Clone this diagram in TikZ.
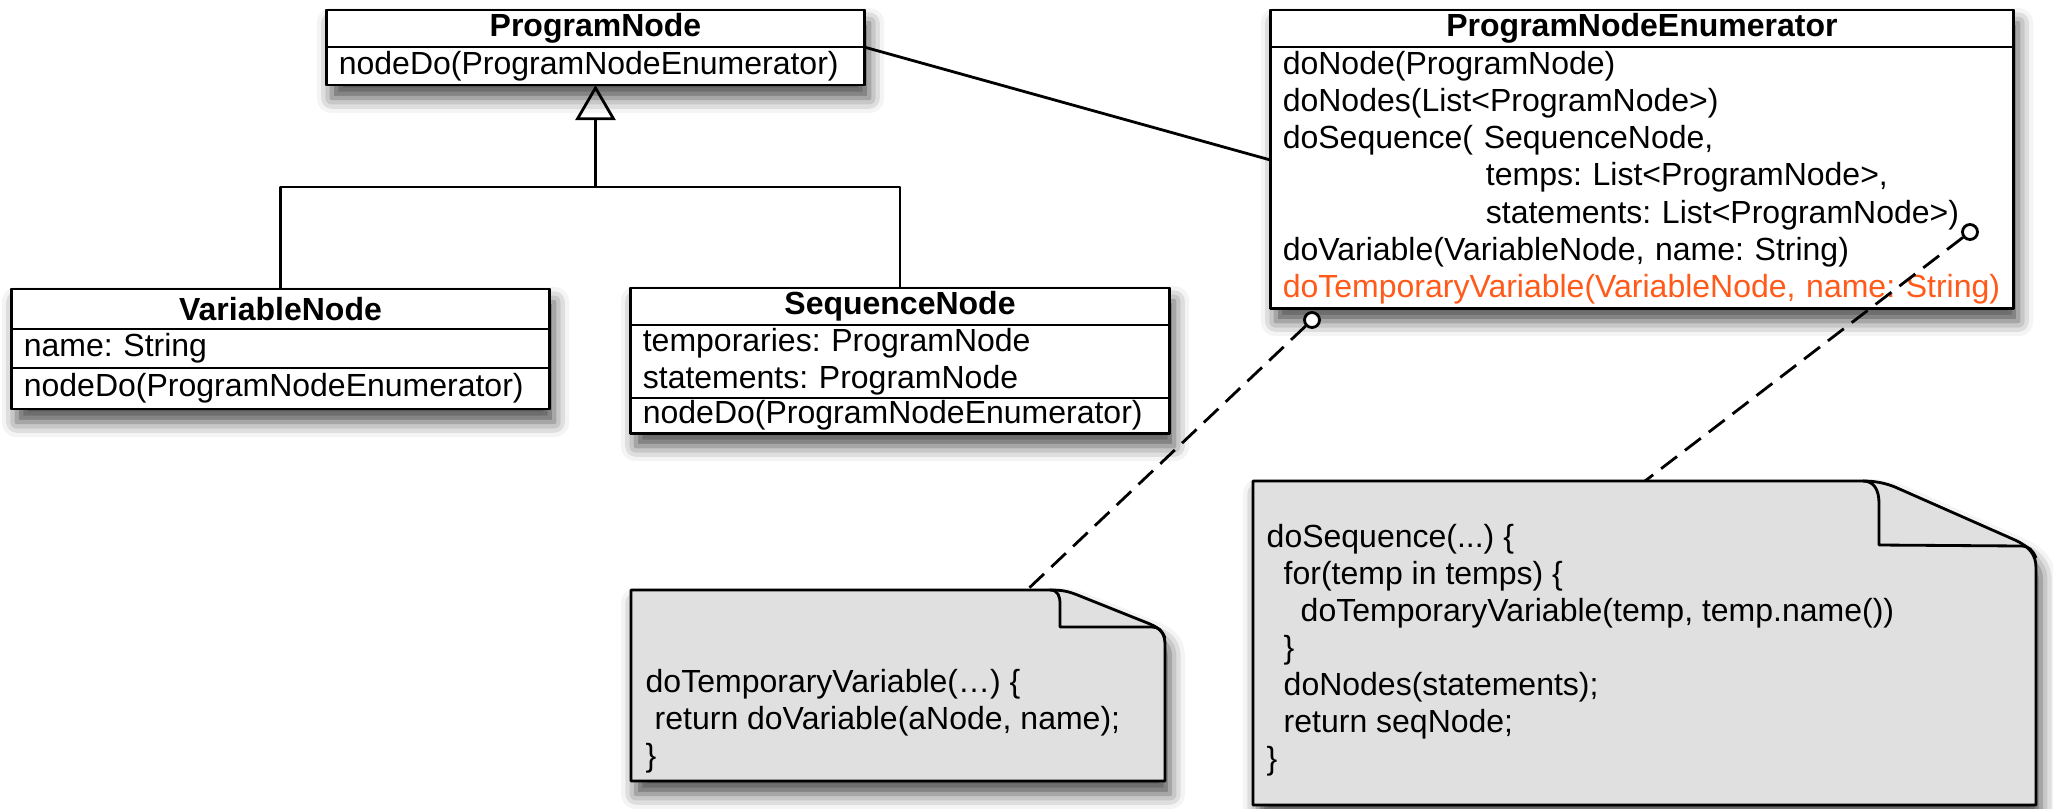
\documentclass[tikz,border=0pt]{standalone}
\usepackage{fontspec}
\setmainfont{Liberation Sans}
\usetikzlibrary{positioning,arrows.meta,shadows.blur}
\definecolor{notegray}{RGB}{224,224,224}
\definecolor{hilite}{RGB}{255,90,26}
\tikzset{
  boxshadow/.style={blur shadow={shadow xshift=0.05cm, shadow yshift=-0.13cm, shadow blur radius=0.15cm, shadow opacity=70}},
  classframe/.style={draw, line width=0.8pt, fill=white, outer sep=0pt, inner sep=0pt, boxshadow},
  classpart/.style={draw, line width=0.8pt, fill=white, outer sep=0pt, inner xsep=0.12cm, inner ysep=0pt,
    font=\fontsize{9.1}{10.6}\selectfont},
  classname/.style={classpart, font=\fontsize{9.1}{10.6}\selectfont\bfseries, align=center},
  classbody/.style={classpart, align=left},
  note/.style={draw, line width=0.8pt, fill=notegray, line join=round, boxshadow},
  notetext/.style={inner sep=0pt, align=left, anchor=west, font=\fontsize{9.1}{10.5}\selectfont},
  pin/.style={circle, draw, line width=0.8pt, fill=white, minimum size=0.15cm, inner sep=0pt},
  notelink/.style={line width=0.8pt, dash pattern=on 0.2cm off 0.1cm},
  inherit/.style={line width=0.8pt, -{Triangle[open, length=0.35cm, width=0.4cm, line width=0.8pt]}}
}
\frenchspacing
\begin{document}
\begin{tikzpicture}[x=0.01cm, y=-0.01cm, line join=round]
  \useasboundingbox (0,0) rectangle (2053,808);
  % classes
  \node[classframe, minimum width=5.37cm, minimum height=0.75cm, anchor=north] (pn) at (595.5,10) {};
  \node[classname, text width=5.13cm, minimum height=0.37cm, below=0pt of pn.north] (pnT) {ProgramNode};
  \node[classbody, text width=5.13cm, minimum height=0.38cm, below=0pt of pnT] (pnM) {nodeDo(ProgramNodeEnumerator)};

  \node[classframe, minimum width=5.37cm, minimum height=1.20cm, anchor=north] (vn) at (280.5,289) {};
  \node[classname, text width=5.13cm, minimum height=0.40cm, below=0pt of vn.north] (vnT) {VariableNode};
  \node[classbody, text width=5.13cm, minimum height=0.39cm, below=0pt of vnT] (vnA) {name: String};
  \node[classbody, text width=5.13cm, minimum height=0.41cm, below=0pt of vnA] (vnM) {nodeDo(ProgramNodeEnumerator)};

  \node[classframe, minimum width=5.38cm, minimum height=1.45cm, anchor=north] (sn) at (900,288) {};
  \node[classname, text width=5.14cm, minimum height=0.37cm, below=0pt of sn.north] (snT) {SequenceNode};
  \node[classbody, text width=5.14cm, minimum height=0.73cm, below=0pt of snT] (snA) {temporaries: ProgramNode\\statements: ProgramNode};
  \node[classbody, text width=5.14cm, minimum height=0.35cm, below=0pt of snA] (snM) {nodeDo(ProgramNodeEnumerator)};

  \node[classframe, minimum width=7.42cm, minimum height=2.98cm, anchor=north] (en) at (1642,10) {};
  \node[classname, text width=7.18cm, minimum height=0.37cm, below=0pt of en.north] (enT) {ProgramNodeEnumerator};
  \node[classbody, text width=7.18cm, minimum height=2.61cm, below=0pt of enT] (enM) {doNode(ProgramNode)\\
    doNodes(List<ProgramNode>)\\
    doSequence( SequenceNode,\\
    \hspace*{2.03cm}temps: List<ProgramNode>,\\
    \hspace*{2.03cm}statements: List<ProgramNode>)\\
    doVariable(VariableNode, name: String)\\
    \textcolor{hilite}{doTemporaryVariable(VariableNode, name: String)}};

  % generalization and association
  \coordinate (fork) at (595.5,187);
  \draw[line width=0.8pt] (vnT.north) |- (fork) -| (snT.north);
  \draw[inherit] (fork) -- (pnM.south);
  \draw[line width=0.8pt] (pnT.south east) -- ([yshift=0.175cm]enM.west);

  % notes
  \draw[note] (631,590) -- (1050,590) .. controls (1062,590) and (1068,591) .. (1080,596) -- (1150,624)
    .. controls (1162,629) and (1165,635) .. (1165,645) -- (1165,781) -- (631,781) -- cycle;
  \draw[line width=0.8pt] (1050,590) .. controls (1058,590) and (1060,596) .. (1060,604) -- (1060,627)
    -- (1152,627) .. controls (1158,627) and (1162,630) .. (1165,638);
  \node[notetext] (n1text) at (645,721) {doTemporaryVariable(…) \{\\
    \hspace*{0.09cm}return doVariable(aNode, name);\\
    \}};

  \draw[note] (1253,481) -- (1863,481) .. controls (1875,481) and (1885,483) .. (1895,487) -- (2015,540)
    .. controls (2030,547) and (2036,555) .. (2036,568) -- (2036,805) -- (1253,805) -- cycle;
  \draw[line width=0.8pt] (1863,481) .. controls (1874,481) and (1879,490) .. (1879,503) -- (1879,545)
    -- (2022,546) .. controls (2028,546) and (2033,550) .. (2036,558);
  \node[notetext] (n2text) at (1266,650) {doSequence(...) \{\\
    \hspace*{0.17cm}for(temp in temps) \{\\
    \hspace*{0.34cm}doTemporaryVariable(temp, temp.name())\\
    \hspace*{0.17cm}\}\\
    \hspace*{0.17cm}doNodes(statements);\\
    \hspace*{0.17cm}return seqNode;\\
    \}};

  % note anchors
  \node[pin] (pin1) at (1312,320) {};
  \node[pin] (pin2) at (1970,232) {};
  \coordinate (n1tip) at (1027,590);
  \coordinate (n2tip) at (1645,481);
  \draw[notelink] (pin1) -- (n1tip);
  \draw[notelink] (pin2) -- (n2tip);
\end{tikzpicture}
\end{document}
